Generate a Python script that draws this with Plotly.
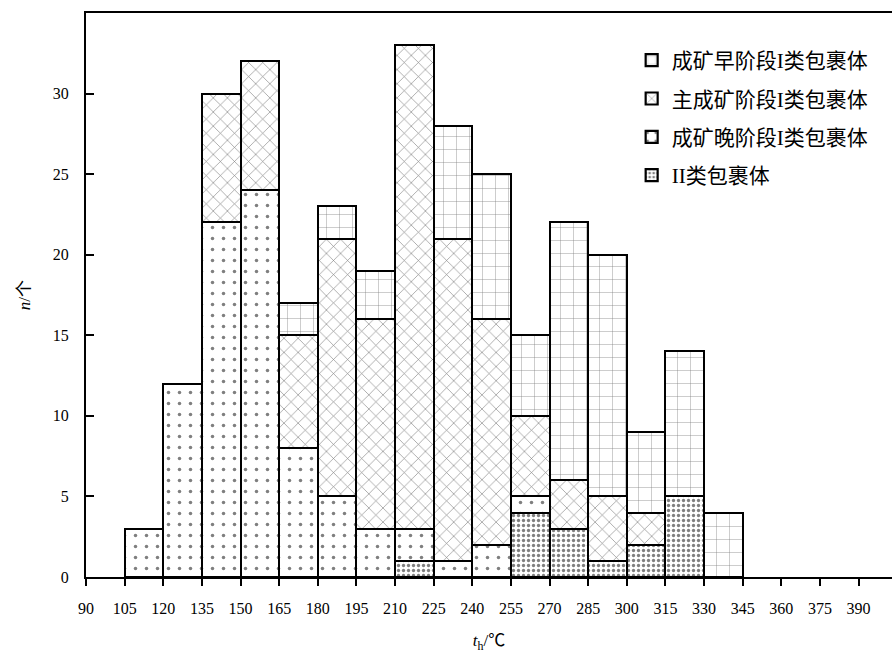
import plotly.graph_objects as go

bin_left = [105, 120, 135, 150, 165, 180, 195, 210, 225, 240, 255, 270, 285, 300, 315, 330]
bin_width = 15
early_I = [0, 0, 0, 0, 2, 2, 3, 0, 7, 9, 5, 16, 15, 5, 9, 4]
main_I = [0, 0, 8, 8, 7, 16, 13, 30, 20, 14, 5, 3, 4, 2, 0, 0]
late_I = [3, 12, 22, 24, 8, 5, 3, 2, 1, 2, 1, 0, 0, 0, 0, 0]
type_II = [0, 0, 0, 0, 0, 0, 0, 1, 0, 0, 4, 3, 1, 2, 5, 0]
x_ticks = list(range(90, 391, 15))
y_ticks = [0, 5, 10, 15, 20, 25, 30]

names = ["成矿早阶段I类包裹体", "主成矿阶段I类包裹体", "成矿晚阶段I类包裹体", "II类包裹体"]

centers = [b + bin_width / 2 for b in bin_left]
FONT = "Liberation Serif, Noto Sans CJK SC, serif"

fig = go.Figure()
series = [
    (names[3], type_II, dict(shape=".", size=5, solidity=0.35), 4),
    (names[2], late_I, dict(shape=".", size=11, solidity=0.08), 3),
    (names[1], main_I, dict(shape="x", size=10, solidity=0.12), 2),
    (names[0], early_I, dict(shape="+", size=13, solidity=0.06), 1),
]
for i, (name, vals, pat, rank) in enumerate(series):
    fig.add_trace(go.Bar(
        x=centers, y=vals, width=bin_width, name=name, legendgroup=f"g{i}",
        legendrank=rank,
        marker=dict(color="white", line=dict(color="black", width=2.2),
                    pattern=dict(fgcolor="black", bgcolor="white", **pat)),
    ))

fig.update_layout(
    width=892, height=654,
    barmode="stack", bargap=0,
    plot_bgcolor="white", paper_bgcolor="white",
    margin=dict(l=86, r=0, t=13, b=77),
    font=dict(family=FONT, size=16, color="black"),
    legend=dict(x=0.677, y=0.952, xanchor="left", yanchor="top",
                traceorder="grouped", font=dict(size=21),
                bgcolor="rgba(0,0,0,0)", tracegroupgap=8),
    xaxis=dict(range=[90, 403], tickvals=x_ticks, ticktext=[str(v) for v in x_ticks],
               showline=True, linecolor="black", linewidth=2, mirror=True,
               ticks="outside", ticklen=7, tickwidth=2, tickcolor="black",
               ticklabelstandoff=9,
               showgrid=False, zeroline=False,
               title=dict(text="<i>t</i><sub>h</sub>/℃", standoff=18, font=dict(size=17))),
    yaxis=dict(range=[0, 35], tickvals=y_ticks, ticktext=[str(v) for v in y_ticks],
               showline=True, linecolor="black", linewidth=2,
               ticks="inside", ticklen=8, tickwidth=1.5, tickcolor="black",
               ticklabelstandoff=12,
               showgrid=False, zeroline=False,
               title=dict(text="<i>n</i>/个", standoff=18, font=dict(size=17))),
)

fig.write_html("out.html", config={"displayModeBar": False},
               post_script="document.body.style.margin='0';document.body.style.overflow='hidden';")
